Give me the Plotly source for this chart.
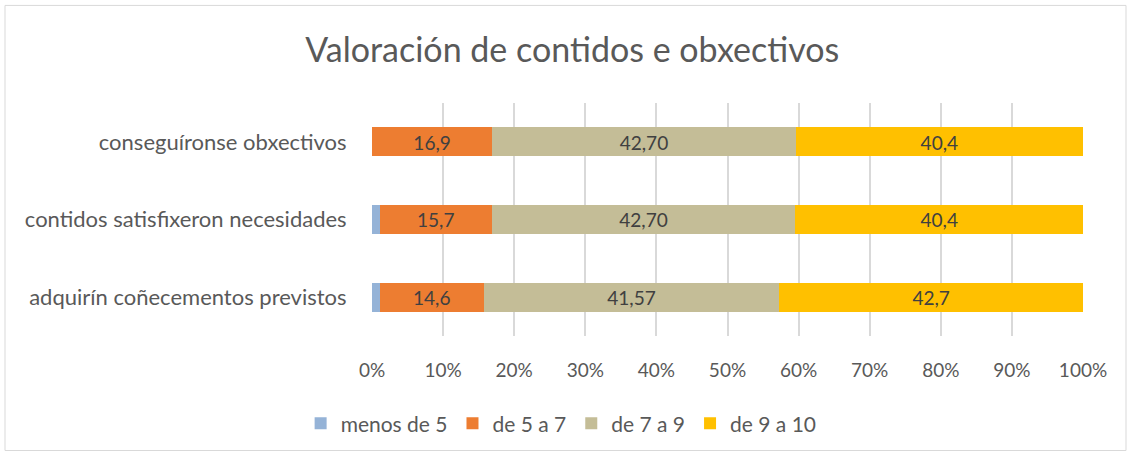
import plotly.graph_objects as go

categories = ["adquirín coñecementos previstos", "contidos satisfixeron necesidades", "conseguíronse obxectivos"]
series_names = ["menos de 5", "de 5 a 7", "de 7 a 9", "de 9 a 10"]
menos5 = [1.1, 1.1, 0.0]
de5a7 = [14.6, 15.7, 16.9]
de7a9 = [41.57, 42.70, 42.70]
de9a10 = [42.7, 40.4, 40.4]
labels_menos5 = ["", "", ""]
labels_de5a7 = ["14,6", "15,7", "16,9"]
labels_de7a9 = ["41,57", "42,70", "42,70"]
labels_de9a10 = ["42,7", "40,4", "40,4"]
tick_vals = [0, 10, 20, 30, 40, 50, 60, 70, 80, 90, 100]
tick_text = ["0%", "10%", "20%", "30%", "40%", "50%", "60%", "70%", "80%", "90%", "100%"]
colors = ["#95B3D7", "#ED7D31", "#C4BD97", "#FFC000"]

FONT = "Lato"

fig = go.Figure()
data = [menos5, de5a7, de7a9, de9a10]
labels = [labels_menos5, labels_de5a7, labels_de7a9, labels_de9a10]
for name, vals, txt, col in zip(series_names, data, labels, colors):
    fig.add_trace(go.Bar(
        y=categories, x=vals, name=name, orientation="h",
        marker=dict(color=col, line=dict(width=0)),
        text=txt, textposition="inside", insidetextanchor="middle",
        textfont=dict(size=21, color="#404040", family=FONT),
        cliponaxis=False,
    ))

fig.update_layout(
    barmode="stack", barnorm="percent",
    bargap=0.63,
    width=1131, height=455,
    margin=dict(l=372, r=48, t=103, b=118),
    paper_bgcolor="white", plot_bgcolor="white",
    title=dict(text="Valoración de contidos e obxectivos", x=0.506, xref="container",
               xanchor="center", y=0.89, yanchor="middle",
               font=dict(size=34, color="#595959", family=FONT)),
    font=dict(family=FONT, color="#595959"),
    uniformtext=dict(mode="show", minsize=10),
    legend=dict(orientation="h", x=0.266, xanchor="center", y=-0.283, yanchor="top",
                font=dict(size=21, color="#595959", family=FONT), traceorder="normal",
                itemwidth=30),
    showlegend=True,
)
fig.update_xaxes(range=[0, 100], tickvals=tick_vals, ticktext=tick_text,
                 showgrid=True, gridcolor="#D9D9D9", gridwidth=2, zeroline=False,
                 tickfont=dict(size=19, color="#595959", family=FONT),
                 ticks="outside", ticklen=17, tickcolor="white",
                 showline=False)
fig.update_yaxes(range=[-0.5, 2.5], showgrid=False,
                 tickfont=dict(size=22, color="#595959", family=FONT),
                 ticks="outside", ticklen=20, tickcolor="white", showline=False)

fig.add_shape(type="rect", xref="paper", yref="paper",
              x0=(5 - 372) / 711, x1=(1126 - 372) / 711,
              y0=(337 - 452) / 234, y1=(337 - 5) / 234,
              line=dict(color="#D9D9D9", width=1), layer="below")

fig.write_html("out.html", config={"displayModeBar": False},
               post_script="document.body.style.margin='0';")
